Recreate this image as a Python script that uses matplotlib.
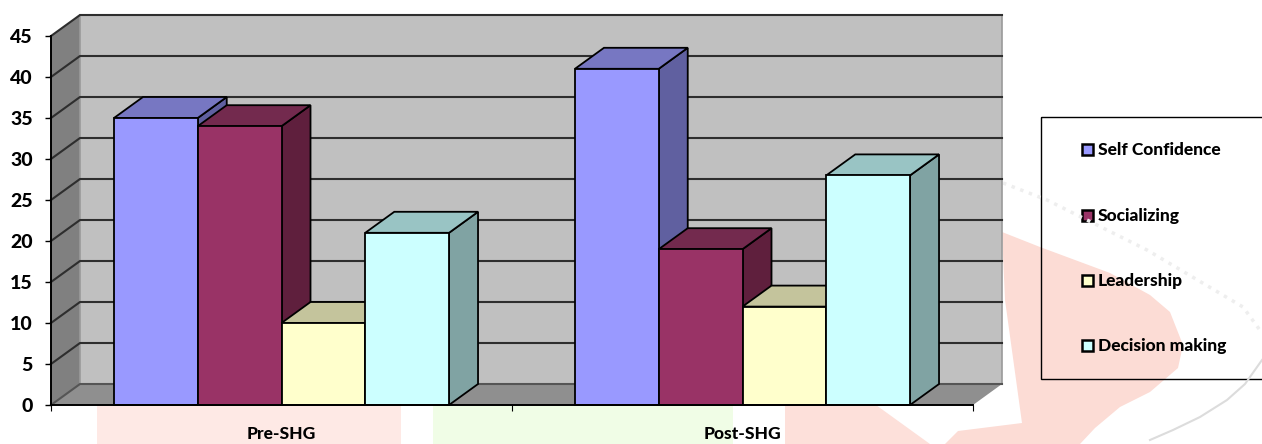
import matplotlib
matplotlib.use('Agg')
import matplotlib.pyplot as plt
from matplotlib.patches import Polygon, Rectangle

plt.rcParams['font.family'] = ['Lato', 'DejaVu Sans']

groups = ['Pre-SHG', 'Post-SHG']
series = ['Self Confidence', 'Socializing', 'Leadership', 'Decision making']
values = [[35, 34, 10, 21],
          [41, 19, 12, 28]]
front_colors = ['#9999ff', '#993366', '#ffffcc', '#ccffff']
top_colors = ['#7777c2', '#732a4e', '#c4c49c', '#99c4c4']
side_colors = ['#6060a0', '#5f1f3d', '#a0a080', '#80a3a3']
yticks = [0, 5, 10, 15, 20, 25, 30, 35, 40, 45]

W, H = 1262, 444
BAR_W = 0.1817    # one bar, in category units
DX = 29 / 461     # depth of the box, category units
DY = 21 / 8.2     # depth of the box, value units
TEXT_WEIGHT = 900

fig = plt.figure(figsize=(W / 100, H / 100), dpi=100, facecolor='white')

# pixel-space layer for the faint page background and the legend
bg = fig.add_axes([0, 0, 1, 1], zorder=0)
bg.set_xlim(0, W)
bg.set_ylim(H, 0)
bg.axis('off')

bg.add_patch(Rectangle((97, 405), 304, 39, fc='#fee9e5', ec='none'))
bg.add_patch(Rectangle((433, 405), 300, 39, fc='#f0fde6', ec='none'))
bg.add_patch(Polygon([(785, 405), (876, 405), (930, 444), (785, 444)], fc='#fde0da', ec='none'))
bg.add_patch(Polygon([(1002, 232), (1040, 247), (1110, 273), (1150, 295), (1170, 312), (1183, 345),
                      (1178, 368), (1150, 392), (1120, 407), (1095, 428), (1080, 444), (945, 444),
                      (958, 431), (1022, 423), (1005, 300)], fc='#fcdcd5', ec='none'))
# stippled arc of the page decoration
bg.plot([1003, 1047, 1147, 1243, 1262], [183, 200, 250, 307, 333], color='#eeeeee', lw=2.5, ls=':')
bg.plot([1262, 1245, 1227, 1200, 1173, 1150], [360, 384, 400, 417, 430, 440], color='#dcdcdc', lw=1.5)

# legend box runs off the right edge
bg.add_patch(Rectangle((1040.5, 117), 240, 262, fc='none', ec='black', lw=1))
for i, name in enumerate(series):
    yc = [150, 216, 281, 346][i]
    bg.add_patch(Rectangle((1082, yc - 6), 11, 11, fc=front_colors[i], ec='black', lw=1.8))
    bg.text(1098, yc, name, fontsize=12.5, fontweight=TEXT_WEIGHT, va='center', ha='left', color='black')

ax = fig.add_axes([51 / W, (H - 405) / H, 922 / W, 369 / H], zorder=1)
ax.patch.set_alpha(0)
ax.set_xlim(0, 2)
ax.set_ylim(0, 45)


def box_poly(points, **kw):
    ax.add_patch(Polygon(points, clip_on=False, **kw))


# side wall, floor and back wall
box_poly([(0, 0), (DX, DY), (2 + DX, DY), (2, 0)], fc='#8f8f8f', ec='none', zorder=1)
box_poly([(0, 0), (DX, DY), (DX, 45 + DY), (0, 45)], fc='#808080', ec='none', zorder=1)
box_poly([(DX, DY), (2 + DX, DY), (2 + DX, 45 + DY), (DX, 45 + DY)], fc='#c0c0c0', ec='#9a9a9a', lw=1.2, zorder=1)

# gridlines wrap from the side wall on to the back wall
for t in yticks:
    col = '#2e2e2e' if t > 0 else '#555555'
    ax.plot([0, DX, 2 + DX], [t, t + DY, t + DY], color=col, lw=1.5, clip_on=False, zorder=2,
            solid_joinstyle='miter')

# bars, left to right so each one covers the side of the last
n = len(series)
for g, row in enumerate(values):
    start = g + 0.5 - n * BAR_W / 2
    for i, v in enumerate(row):
        x0 = start + i * BAR_W
        x1 = x0 + BAR_W
        edge = dict(ec='black', lw=1.3, joinstyle='miter', zorder=3 + i)
        box_poly([(x1, 0), (x1 + DX, DY), (x1 + DX, v + DY), (x1, v)], fc=side_colors[i], **edge)
        box_poly([(x0, v), (x1, v), (x1 + DX, v + DY), (x0 + DX, v + DY)], fc=top_colors[i], **edge)
        box_poly([(x0, 0), (x1, 0), (x1, v), (x0, v)], fc=front_colors[i], **edge)

for s in ['top', 'right']:
    ax.spines[s].set_visible(False)
for s in ['left', 'bottom']:
    ax.spines[s].set_linewidth(1.4)
    ax.spines[s].set_zorder(10)

ax.set_yticks(yticks)
ax.set_yticklabels([str(t) for t in yticks], fontsize=14, fontweight=TEXT_WEIGHT)
ax.tick_params(axis='y', length=4, width=1, pad=9)

ax.set_xticks([0, 1, 2])
ax.set_xticklabels(['', '', ''])
ax.tick_params(axis='x', which='major', length=4.5, width=0.8)
ax.set_xticks([0.5, 1.5], minor=True)
ax.set_xticklabels(groups, minor=True, fontsize=12.5, fontweight=TEXT_WEIGHT)
ax.tick_params(axis='x', which='minor', length=0, pad=15)

fig.savefig('out.png', dpi=100, facecolor='white')
